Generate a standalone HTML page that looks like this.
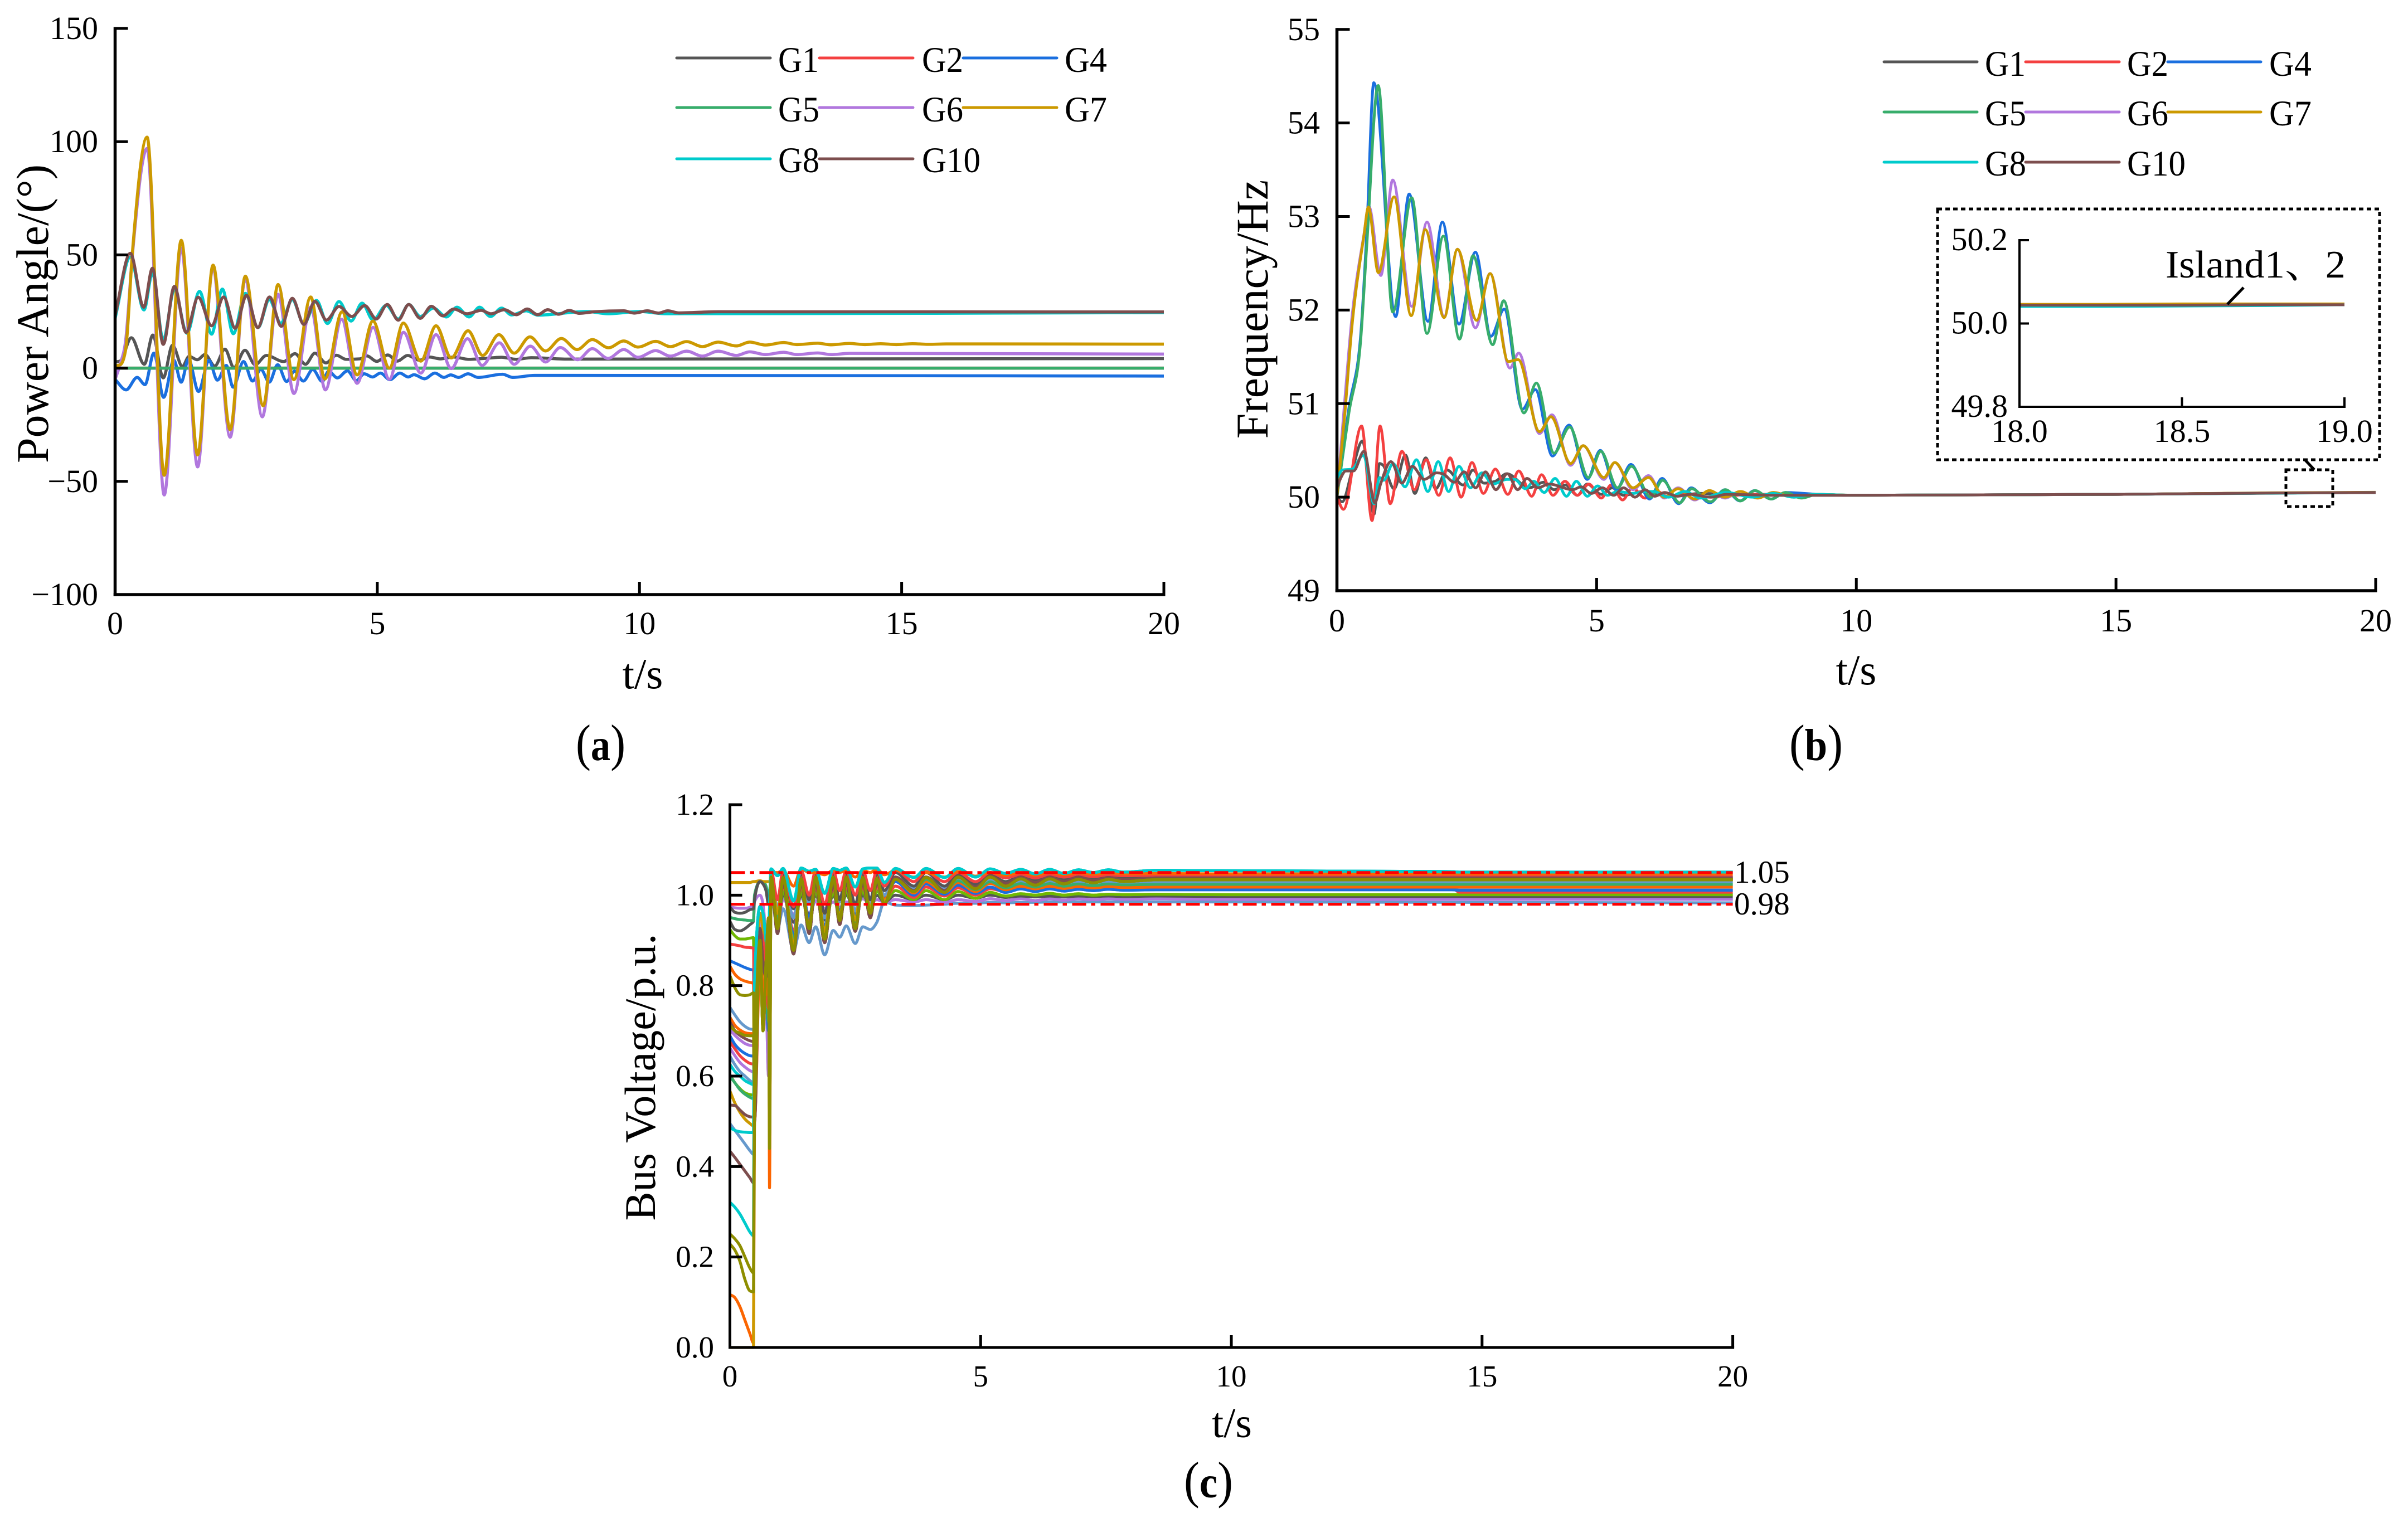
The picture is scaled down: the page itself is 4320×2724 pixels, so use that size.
<!DOCTYPE html>
<html><head><meta charset="utf-8"><title>Power angle, frequency and bus voltage</title>
<style>
html,body{margin:0;padding:0;background:#fff}
svg{display:block}
text{font-family:"Liberation Serif","Noto Serif CJK SC",serif;fill:#000}
.lg{font-size:65px}
.title{font-size:82px}
.cap{font-size:80px}
.par{font-size:92px}
</style></head>
<body>
<svg id="fig" xmlns="http://www.w3.org/2000/svg" width="4320" height="2724" viewBox="0 0 4320 2724">
<rect width="4320" height="2724" fill="#fff"/>

<g id="panelA"></g>
<g id="panelB"></g>
<g id="panelC"></g>
<g id="panelI"></g>

<text class="title" transform="translate(86,563) rotate(-90)" text-anchor="middle">Power Angle/(°)</text>
<text class="title" x="1153" y="1235" text-anchor="middle" style="font-size:77px">t/s</text>
<text class="cap" x="1033" y="1364" textLength="89" lengthAdjust="spacingAndGlyphs"><tspan class="par">(</tspan><tspan font-weight="bold">a</tspan><tspan class="par">)</tspan></text>

<text class="title" transform="translate(2274,555) rotate(-90)" text-anchor="middle">Frequency/Hz</text>
<text class="title" x="3330" y="1228" text-anchor="middle" style="font-size:77px">t/s</text>
<text class="cap" x="3210" y="1364" textLength="96" lengthAdjust="spacingAndGlyphs"><tspan class="par">(</tspan><tspan font-weight="bold">b</tspan><tspan class="par">)</tspan></text>

<text class="title" transform="translate(1175,1933) rotate(-90)" text-anchor="middle" style="font-size:78px">Bus Voltage/p.u.</text>
<text class="title" x="2210" y="2579" text-anchor="middle" style="font-size:76px">t/s</text>
<text class="cap" x="2124" y="2687" textLength="88" lengthAdjust="spacingAndGlyphs"><tspan class="par">(</tspan><tspan font-weight="bold">c</tspan><tspan class="par">)</tspan></text>
<text x="3111" y="1584" style="font-size:57px">1.05</text>
<text x="3111" y="1641" style="font-size:57px">0.98</text>

<g stroke-width="5" stroke-linecap="round">
<line x1="1214" x2="1382" y1="104" y2="104" stroke="#555555"/><text class="lg" x="1396" y="129" textLength="73" lengthAdjust="spacingAndGlyphs" stroke="none">G1</text>
<line x1="1470" x2="1638" y1="104" y2="104" stroke="#f44040"/><text class="lg" x="1654" y="129" textLength="74" lengthAdjust="spacingAndGlyphs" stroke="none">G2</text>
<line x1="1728" x2="1896" y1="104" y2="104" stroke="#1a6fdf"/><text class="lg" x="1910" y="129" textLength="76" lengthAdjust="spacingAndGlyphs" stroke="none">G4</text>
<line x1="1214" x2="1382" y1="193" y2="193" stroke="#37ad6b"/><text class="lg" x="1396" y="218" textLength="74" lengthAdjust="spacingAndGlyphs" stroke="none">G5</text>
<line x1="1470" x2="1638" y1="193" y2="193" stroke="#b177de"/><text class="lg" x="1654" y="218" textLength="74" lengthAdjust="spacingAndGlyphs" stroke="none">G6</text>
<line x1="1728" x2="1896" y1="193" y2="193" stroke="#cc9900"/><text class="lg" x="1910" y="218" textLength="76" lengthAdjust="spacingAndGlyphs" stroke="none">G7</text>
<line x1="1214" x2="1382" y1="285" y2="285" stroke="#00cbcc"/><text class="lg" x="1396" y="309" textLength="74" lengthAdjust="spacingAndGlyphs" stroke="none">G8</text>
<line x1="1470" x2="1638" y1="285" y2="285" stroke="#7d4e4e"/><text class="lg" x="1654" y="309" textLength="105" lengthAdjust="spacingAndGlyphs" stroke="none">G10</text>
</g>

<g stroke-width="5" stroke-linecap="round">
<line x1="3380" x2="3547" y1="111" y2="111" stroke="#555555"/><text class="lg" x="3561" y="136" textLength="73" lengthAdjust="spacingAndGlyphs" stroke="none">G1</text>
<line x1="3634" x2="3802" y1="111" y2="111" stroke="#f44040"/><text class="lg" x="3816" y="136" textLength="74" lengthAdjust="spacingAndGlyphs" stroke="none">G2</text>
<line x1="3889" x2="4056" y1="111" y2="111" stroke="#1a6fdf"/><text class="lg" x="4071" y="136" textLength="76" lengthAdjust="spacingAndGlyphs" stroke="none">G4</text>
<line x1="3380" x2="3547" y1="201" y2="201" stroke="#37ad6b"/><text class="lg" x="3561" y="225" textLength="74" lengthAdjust="spacingAndGlyphs" stroke="none">G5</text>
<line x1="3634" x2="3802" y1="201" y2="201" stroke="#b177de"/><text class="lg" x="3816" y="225" textLength="74" lengthAdjust="spacingAndGlyphs" stroke="none">G6</text>
<line x1="3889" x2="4056" y1="201" y2="201" stroke="#cc9900"/><text class="lg" x="4071" y="225" textLength="76" lengthAdjust="spacingAndGlyphs" stroke="none">G7</text>
<line x1="3380" x2="3547" y1="291" y2="291" stroke="#00cbcc"/><text class="lg" x="3561" y="315" textLength="74" lengthAdjust="spacingAndGlyphs" stroke="none">G8</text>
<line x1="3634" x2="3802" y1="291" y2="291" stroke="#7d4e4e"/><text class="lg" x="3816" y="315" textLength="105" lengthAdjust="spacingAndGlyphs" stroke="none">G10</text>
</g>

<rect x="3476" y="375" width="793" height="450" fill="none" stroke="#000" stroke-width="5" stroke-dasharray="8 6"/>
<rect x="4101" y="843" width="84" height="66" fill="none" stroke="#000" stroke-width="5" stroke-dasharray="8 6"/>
<line x1="4135" y1="825" x2="4152" y2="843" stroke="#000" stroke-width="5"/>
<text x="3885" y="498" textLength="323" lengthAdjust="spacingAndGlyphs" style="font-size:70px">Island1、2</text>
<line x1="4025" y1="516" x2="3996" y2="546" stroke="#000" stroke-width="5"/>
</svg>

<script>
/* ---------- shared axes values ---------- */
const timeTicks = [0, 5, 10, 15, 20];
const angleTicks = [-100, -50, 0, 50, 100, 150];
const angleTickLabels = ['\u2212100', '\u221250', '0', '50', '100', '150'];
const freqTicks = [49, 50, 51, 52, 53, 54, 55];
const freqTickLabels = ['49', '50', '51', '52', '53', '54', '55'];
const busTicks = [0, 0.2, 0.4, 0.6, 0.8, 1.0, 1.2];
const busTickLabels = ['0.0', '0.2', '0.4', '0.6', '0.8', '1.0', '1.2'];
const insetXTicks = [18, 18.5, 19];
const insetXLabels = ['18.0', '18.5', '19.0'];
const insetYTicks = [49.8, 50, 50.2];
const insetYLabels = ['49.8', '50.0', '50.2'];
const busLimits = [1.05, 0.98];

/* ---------- panel (a): power angle, [t, degrees] read at extrema ---------- */
const angleG1 = [[0,2.7],[.1,3.2],[.31,13.4],[.557,1.7],[.72,14.6],[.918,-4.3],[1.095,10.1],[1.283,.7],[1.41,5.2],[1.567,3.7],[1.715,6],[1.9,.9],[2.095,8.4],[2.265,.2],[2.477,7.9],[2.67,1.5],[2.885,5.6],[3.215,2.9],[3.43,6.4],[3.63,1.7],[3.81,6.6],[4.02,2.3],[4.22,5.7],[4.4,3.9],[4.67,4.1],[4.8,5.4],[4.99,3],[5.2,5.8],[5.38,3.1],[5.58,5.6],[5.8,3.5],[6,4.9],[6.2,4.1],[6.46,4.9],[6.74,3.9],[7.05,4.3],[7.37,4.8],[7.65,3.9],[7.94,4.6],[8.6,4],[20,4.2]];
const angleG2 = [[0,0],[20,0]];
const angleG4 = [[0,-5],[.21,-9.6],[.42,-4.1],[.57,-7.3],[.74,6.6],[.925,-12.9],[1.12,3.5],[1.26,-6.2],[1.4,3.9],[1.59,-10.3],[1.79,3.4],[1.95,-5.3],[2.12,1.2],[2.25,-8.4],[2.45,2.9],[2.62,-5.7],[2.78,-.6],[2.94,-6.2],[3.1,1.5],[3.27,-5.9],[3.42,-1.4],[3.59,-5.7],[3.77,-.6],[3.95,-5.9],[4.07,-1.4],[4.24,-4.3],[4.43,-1.2],[4.6,-5.5],[4.75,-2.5],[4.91,-3.9],[5.06,-2.2],[5.24,-5.1],[5.43,-2.2],[5.59,-3.9],[5.7,-2.9],[5.9,-4.7],[6.1,-2.2],[6.27,-4.1],[6.4,-3],[6.55,-4.1],[6.73,-2.5],[6.92,-4.1],[7.39,-2.7],[7.58,-4.1],[8,-3.2],[20,-3.5]];
const angleG5 = [[0,0],[20,0]];
const angleG6 = [[0,-5],[.1,2],[.2,12],[.33,50],[.61,97],[.936,-56],[1.262,53],[1.574,-43.6],[1.86,43.7],[2.194,-30.5],[2.48,39],[2.807,-21.5],[3.108,32.6],[3.41,-11.2],[3.73,27],[4.01,-9.6],[4.32,21.6],[4.615,-6.7],[4.92,18],[5.23,-4.9],[5.5,15.8],[5.83,-2.2],[6.12,14.8],[6.41,-.2],[6.72,13],[7,1.2],[7.33,11.2],[7.61,1.7],[7.92,9.7],[8.21,2.7],[8.49,9.1],[8.82,3.7],[9.1,8.6],[9.4,4.3],[9.7,8.2],[9.97,4.8],[10.31,7.7],[10.59,5.3],[10.9,7.5],[11.2,5.3],[11.5,7.5],[11.85,5.6],[12.1,7.2],[12.4,6],[12.75,7],[13,6],[13.4,6.7],[13.65,6],[14,6.5],[20,6.2]];
const angleG7 = [[0,1],[.1,1.5],[.2,8],[.33,51],[.61,102],[.936,-47.3],[1.262,56.4],[1.574,-38.3],[1.868,45.5],[2.194,-27.2],[2.484,40.6],[2.825,-16.6],[3.108,36.9],[3.41,-5.1],[3.73,31.4],[4,-4.8],[4.33,24.9],[4.615,-3],[4.916,20.8],[5.23,0],[5.497,19.9],[5.83,3.1],[6.12,18.7],[6.41,4.5],[6.73,16.5],[7.01,5.6],[7.32,14.8],[7.61,6.6],[7.91,13.8],[8.21,7.6],[8.51,13.1],[8.81,8.2],[9.1,12.6],[9.41,9],[9.7,12],[9.97,9.3],[10.31,11.8],[10.59,9.5],[10.9,11.7],[11.2,9.5],[11.5,11.5],[11.85,9.8],[12.1,11.5],[12.4,10.2],[12.75,11.3],[13,10.4],[13.4,11],[13.65,10.3],[14,10.9],[14.3,10.4],[14.6,10.8],[14.9,10.4],[15.2,10.8],[15.55,10.5],[15.85,10.7],[20,10.6]];
const angleG8 = [[0,22],[.29,49],[.55,25.7],[.712,42],[.918,12.5],[1.13,34.7],[1.37,15.4],[1.61,33.9],[1.84,15],[2.045,34.9],[2.254,15.2],[2.485,33],[2.725,17.9],[2.94,30.2],[3.16,19.9],[3.38,30.2],[3.6,19.5],[3.84,29.9],[4.05,19.7],[4.27,29.4],[4.5,20.8],[4.71,28.7],[4.92,21.2],[5.17,27.7],[5.4,21.7],[5.6,28.1],[5.82,22.8],[6.07,26.5],[6.32,22.6],[6.52,26.9],[6.75,22.6],[6.95,26.9],[7.16,22.8],[7.37,26.5],[7.56,23.5],[7.84,25.3],[8.06,23.4],[9,25],[9.4,24],[10,25],[10.5,24],[20,24.5]];
const angleG10 = [[0,23.2],[.29,50.7],[.546,26.9],[.712,44.1],[.918,10.5],[1.13,36.1],[1.354,15.8],[1.584,31.3],[1.84,18.7],[2.07,31.4],[2.29,17.6],[2.506,32.1],[2.72,17.9],[2.945,31.4],[3.17,18.5],[3.38,30.8],[3.6,19.3],[3.81,29.5],[4.03,21.2],[4.27,27.2],[4.515,22.8],[4.76,27.6],[4.98,21.7],[5.19,28.1],[5.4,21.2],[5.6,28.1],[5.82,22],[6.03,27.3],[6.25,23.1],[6.46,26.1],[6.71,24],[6.98,25.5],[7.17,24],[7.42,25.8],[7.65,23.6],[7.86,26.1],[8.06,23.6],[8.25,25.8],[8.46,23.8],[8.66,25.5],[8.85,24.2],[9.14,24.9],[9.7,25.3],[9.9,24.3],[10.15,25.3],[10.36,24.3],[10.54,25.3],[10.75,24.4],[11.5,24.9],[20,24.8]];

/* ---------- panel (b): frequency, [t, Hz] read at extrema ---------- */
const freqG1 = [[0,50],[.1,49.95],[.3,50.3],[.49,50.6],[.715,49.82],[.82,50.36],[.89,50.34],[1.1,50.09],[1.32,50.45],[1.5,50.04],[1.71,50.42],[1.9,50.09],[2.12,50.29],[2.43,50.13],[2.62,50.29],[2.83,50.15],[3.05,50.17],[3.27,50.25],[3.7,50.1],[3.99,50.16],[4.18,50.08],[4.4,50.13],[4.63,50.02],[4.82,50.14],[5.09,50.03],[5.3,50.1],[5.52,50.02],[5.9,50.06],[6.4,50.01],[7,50.04],[8,50.02],[10,50.02],[15,50.03],[18,50.044],[20,50.05]];
const freqG2 = [[0,50],[.125,49.87],[.475,50.76],[.676,49.75],[.83,50.76],[1.026,49.93],[1.25,50.49],[1.49,50.08],[1.72,50.4],[1.96,50.02],[2.18,50.42],[2.39,50],[2.6,50.37],[2.82,50.04],[3.05,50.3],[3.29,50.03],[3.5,50.28],[3.75,50.01],[3.94,50.24],[4.16,50.02],[4.39,50.17],[4.63,50.02],[4.85,50.14],[5.09,49.99],[5.28,50.13],[5.5,49.97],[5.69,50.1],[5.93,49.99],[6.14,50.07],[6.38,50],[6.7,50.04],[7.2,50],[8,50.03],[10,50.02],[15,50.03],[18,50.044],[20,50.05]];
const freqG4 = [[0,50],[.23,50.95],[.46,51.75],[.575,52.84],[.71,54.43],[1.13,51.93],[1.39,53.24],[1.753,51.88],[2.03,52.94],[2.35,51.85],[2.666,52.62],[2.965,51.72],[3.22,52.01],[3.57,50.94],[3.82,51.15],[4.15,50.44],[4.47,50.77],[4.82,50.19],[5.07,50.5],[5.38,50.08],[5.66,50.35],[6.02,49.98],[6.26,50.2],[6.58,49.93],[6.82,50.1],[7.18,49.94],[7.47,50.08],[7.76,49.96],[8.04,50.07],[8.36,49.98],[8.64,50.05],[9.25,50.03],[10,50.02],[15,50.03],[18,50.044],[20,50.05]];
const freqG5 = [[0,50],[.23,50.9],[.46,51.7],[.575,52.7],[.794,54.4],[1.074,51.98],[1.44,53.2],[1.734,51.75],[2.05,52.79],[2.36,51.69],[2.62,52.58],[3,51.63],[3.21,52.1],[3.6,50.9],[3.84,51.22],[4.18,50.47],[4.48,50.75],[4.84,50.21],[5.08,50.49],[5.4,50.1],[5.67,50.33],[6.04,50],[6.27,50.18],[6.6,49.94],[6.83,50.09],[7.19,49.95],[7.48,50.08],[7.77,49.96],[8.05,50.07],[8.36,49.98],[8.64,50.05],[8.94,49.99],[9.25,50.03],[10,50.02],[15,50.03],[18,50.044],[20,50.05]];
const freqG6 = [[0,50],[.153,51.05],[.276,51.85],[.518,52.8],[.614,53.11],[.844,52.37],[1.074,53.39],[1.44,52.04],[1.734,52.94],[2.064,51.93],[2.32,52.65],[2.666,51.81],[2.95,52.39],[3.33,51.38],[3.5,51.54],[3.9,50.68],[4.14,50.88],[4.5,50.34],[4.74,50.55],[5.14,50.19],[5.35,50.37],[5.7,50.08],[6,50.23],[6.3,49.99],[6.57,50.1],[6.89,49.97],[7.17,50.07],[7.47,49.99],[7.77,50.06],[8.1,49.99],[8.4,50.05],[8.8,50],[9.2,50.03],[10,50.02],[15,50.03],[18,50.044],[20,50.05]];
const freqG7 = [[0,50],[.153,50.9],[.276,51.75],[.518,52.79],[.606,53.1],[.798,52.4],[1.1,53.21],[1.43,51.94],[1.7,52.86],[2.064,51.92],[2.32,52.65],[2.69,51.89],[2.95,52.39],[3.3,51.45],[3.49,51.47],[3.9,50.7],[4.12,50.86],[4.5,50.36],[4.74,50.55],[5.14,50.21],[5.35,50.37],[5.7,50.1],[6,50.21],[6.3,50],[6.57,50.09],[6.89,49.98],[7.17,50.07],[7.47,50],[7.77,50.06],[8.1,49.99],[8.4,50.05],[8.8,50],[9.2,50.03],[10,50.02],[15,50.03],[18,50.046],[20,50.052]];
const freqG8 = [[0,50.2],[.1,50.29],[.29,50.3],[.51,50.45],[.715,49.93],[.82,50.21],[.9,50.18],[1.08,50.36],[1.31,50.11],[1.53,50.4],[1.75,50.06],[1.95,50.38],[2.15,50.06],[2.35,50.33],[2.57,50.1],[2.79,50.26],[3,50.14],[3.27,50.19],[3.42,50.19],[3.63,50.09],[3.79,50.17],[3.99,50.05],[4.2,50.2],[4.42,50.01],[4.61,50.17],[4.82,50.01],[5.02,50.12],[5.21,50.02],[5.4,50.06],[5.7,50.04],[5.93,50.06],[6.1,50.06],[6.38,50],[6.7,50.06],[7,49.99],[7.5,50.05],[8,50],[8.4,50.04],[8.8,50],[9.2,50.03],[10,50.02],[15,50.03],[18,50.042],[20,50.05]];
const freqG10 = [[0,50.1],[.07,50.2],[.17,50.28],[.32,50.28],[.52,50.49],[.73,49.94],[.84,50.14],[1.04,50.38],[1.25,50.15],[1.45,50.33],[1.68,50.19],[1.92,50.26],[2.04,50.25],[2.26,50.16],[2.45,50.27],[2.67,50.1],[2.86,50.27],[3.06,50.08],[3.28,50.25],[3.48,50.08],[3.66,50.2],[3.87,50.1],[4.08,50.14],[4.54,50.08],[4.7,50.11],[4.9,50.04],[5.11,50.1],[5.33,50.02],[5.52,50.1],[5.74,50],[5.93,50.08],[6.12,50.01],[6.31,50.05],[6.55,50.01],[6.8,50.03],[7.2,50],[7.5,50.03],[8.5,50.02],[10,50.02],[15,50.03],[18,50.044],[20,50.05]];

/* ---------- inset: frequency between 18 s and 19 s ---------- */
const insetTimes = [18, 18.25, 18.5, 18.75, 19];
const insetG1 = [50.044, 50.044, 50.045, 50.045, 50.045];
const insetG7 = [50.046, 50.046, 50.047, 50.047, 50.047];
const insetG8 = [50.041, 50.041, 50.042, 50.043, 50.045];
const insetG10 = [50.044, 50.044, 50.044, 50.045, 50.045];

/* ---------- panel (c): bus voltages ---------- */
const busPreTimes = [0, .1, .2, .3, .4, .47];
const busRespTimes = [.49,.60,.66,.72,.77,.79,.82,.95,1.06,1.27,1.42,1.58,1.71,1.89,2.06,2.19,2.32,2.5,2.65,2.8,2.93,3.08,3.3,3.67,3.91,4.28,4.55,4.9,5.19,5.5,5.8,6.09,6.38,6.66,6.95,7.25,7.55,7.85,8.5,10,14.4,14.55,20];
const respSteel  = [.55,.92,.94,.85,.75,.9,1.0,.926,.97,.878,.934,.895,.93,.868,.922,.907,.932,.893,.93,.924,.94,.985,.978,.977,.978,.98,.982,.982,.984,.983,.984,.984,.985,.985,.985,.985,.985,.985,.985,.985,.984,.984,.983];
const respPurple = [.6,.9,.95,.8,.6,.8,1.0,.938,.991,.958,.995,.958,.987,.971,.985,.973,.985,.979,.992,.982,.99,.985,.99,.985,.99,.984,.99,.986,.992,.988,.992,.988,.992,.989,.992,.99,.992,.991,.992,.991,.991,.991,.991];
const respGray2  = [.6,.88,.9,.82,.7,.85,1.01,.95,1.0,.94,1.0,.955,1.0,.945,1.0,.965,1.0,.965,1.0,.975,1.0,.985,1.0,.99,1.0,.99,1.0,.993,1.0,.995,.998,.996,.998,.996,.998,.997,.998,.997,.998,.997,.997,.997,.997];
const respLime   = [.58,.86,.88,.8,.72,.84,1.01,.93,1.01,.9,1.01,.93,1.01,.915,1.01,.945,1.01,.94,1.01,.96,1.01,.985,1.01,.99,1.01,.99,1.008,.993,1.006,.998,1.003,1.0,1.004,1.0,1.003,1.0,1.002,1.001,1.002,1.001,1.001,1.001,1.001];
const respRed2   = [.6,.9,.92,.84,.76,.88,1.02,.945,1.02,.92,1.02,.94,1.02,.925,1.02,.95,1.02,.95,1.02,.965,1.02,.99,1.02,.995,1.018,.998,1.016,1.0,1.014,1.008,1.018,1.013,1.018,1.014,1.017,1.015,1.017,1.016,1.016,1.016,1.016,1.0065,1.0065];
const respBlue   = [.62,.88,.92,.8,.7,.86,1.03,.96,1.03,.91,1.03,.945,1.03,.93,1.03,.96,1.03,.955,1.03,.97,1.03,.995,1.03,1.0,1.025,1.002,1.022,1.004,1.018,1.006,1.014,1.008,1.014,1.009,1.013,1.01,1.013,1.011,1.012,1.012,1.012,1.011,1.011];
const respOrange2= [.5,.85,.8,.75,.8,.9,1.03,.95,1.035,.885,1.035,.93,1.035,.91,1.035,.945,1.035,.94,1.035,.96,1.035,.99,1.035,1.005,1.03,1.006,1.028,1.008,1.026,1.012,1.02,1.014,1.02,1.015,1.019,1.016,1.019,1.017,1.018,1.018,1.018,1.018,1.018];
const respGreen  = [.65,.9,.93,.82,.72,.88,1.04,.94,1.035,.9,1.035,.92,1.035,.915,1.035,.94,1.035,.942,1.035,.96,1.035,.985,1.035,1.008,1.035,1.01,1.032,1.012,1.03,1.016,1.026,1.018,1.026,1.02,1.025,1.021,1.025,1.023,1.024,1.024,1.024,1.024,1.024];
const respSteel2 = [.6,.9,.92,.84,.75,.88,1.045,.97,1.04,.95,1.045,.98,1.045,.95,1.045,.985,1.045,.965,1.045,.98,1.045,1.0,1.04,1.015,1.04,1.015,1.038,1.018,1.036,1.024,1.032,1.026,1.032,1.027,1.031,1.028,1.031,1.029,1.03,1.03,1.03,1.03,1.03];
const respGold   = [.7,.96,.92,.85,.8,.92,1.04,.96,1.04,.89,1.04,.925,1.04,.92,1.04,.95,1.04,.945,1.04,.97,1.04,.985,1.04,1.01,1.04,1.01,1.04,1.016,1.04,1.024,1.037,1.026,1.037,1.028,1.036,1.03,1.036,1.032,1.035,1.035,1.035,1.035,1.035];
const respBrown  = [.5,.926,.85,.82,.86,.92,1.03,.915,1.03,.87,1.03,.915,1.03,.895,1.03,.935,1.03,.92,1.03,.95,1.03,.98,1.04,1.01,1.04,1.01,1.04,1.018,1.042,1.026,1.04,1.028,1.04,1.03,1.04,1.032,1.039,1.034,1.038,1.038,1.038,1.038,1.038];
const respGray   = [.8,.97,.93,.86,.85,.95,1.05,.99,1.05,.97,1.05,.99,1.05,.96,1.05,.99,1.05,.98,1.05,.99,1.05,1.01,1.05,1.02,1.05,1.02,1.046,1.024,1.045,1.03,1.042,1.032,1.042,1.034,1.041,1.036,1.041,1.038,1.04,1.04,1.04,1.04,1.04];
const respRed    = [.7,.92,.9,.82,.75,.92,1.055,.99,1.055,.975,1.055,1.0,1.055,.98,1.055,1.01,1.055,1.0,1.055,1.01,1.055,1.02,1.055,1.03,1.052,1.03,1.05,1.03,1.05,1.038,1.046,1.038,1.046,1.04,1.045,1.041,1.045,1.043,1.044,1.044,1.044,1.044,1.044];
const respOrange = [.5,.88,.8,.78,.95,.353,1.05,1.05,1.055,1.02,1.058,1.05,1.05,1.045,1.055,1.05,1.056,1.04,1.055,1.05,1.058,1.045,1.055,1.04,1.05,1.04,1.052,1.042,1.05,1.044,1.05,1.044,1.05,1.045,1.049,1.046,1.049,1.047,1.048,1.047,1.047,1.047,1.047];
const respCyan   = [.8,.975,.96,.9,.85,.97,1.058,1.043,1.059,.987,1.06,1.053,1.057,1.004,1.059,1.055,1.06,1.018,1.058,1.06,1.06,1.028,1.059,1.039,1.059,1.039,1.059,1.04,1.058,1.048,1.057,1.047,1.057,1.048,1.056,1.05,1.056,1.051,1.055,1.054,1.052,1.051,1.051];
const respOlive  = [.55,.9,.7,.85,.95,.44,1.04,.926,1.039,.878,1.036,.926,1.04,.903,1.04,.944,1.04,.926,1.039,.96,1.037,.98,1.035,1.008,1.039,1.006,1.04,1.014,1.04,1.02,1.036,1.022,1.036,1.025,1.035,1.027,1.035,1.03,1.034,1.034,1.034,1.034,1.034];

/* first seven response samples for the buses that stay high through the disturbance */
const headGoldTop = [1.03, 1.032, 1.03, 1.03, 1.03, 1.03, 1.035];
const headGreenTop = [1.0, 1.03, 1.03, 1.02, 1.0, 1.0, 1.03];
const headGrayTop = [.99, 1.03, 1.025, 1.01, .98, 1.0, 1.04];
const headPurpleTop = [.985, 1.0, .98, .9, .8, .85, 1.0];

/* start-of-run voltages per bus (c) */
const preSteelA  = [.752,.735,.72,.71,.704,.703];
const prePurpleA = [.974,.972,.971,.971,.973,.974];
const prePurpleB = [.703,.69,.68,.672,.668,.667];
const prePurpleC = [.662,.645,.63,.62,.612,.608];
const preGrayA   = [.974,.962,.96,.962,.968,.97];
const preGrayB   = [.942,.924,.921,.926,.935,.942];
const preLimeA   = [.924,.91,.903,.903,.905,.906];
const preLimeB   = [.603,.585,.572,.563,.559,.558];
const preRedA    = [.676,.66,.645,.635,.628,.626];
const preBlueA   = [.855,.85,.845,.84,.836,.834];
const preBlueB   = [.689,.67,.658,.65,.645,.644];
const preOrangeA = [.843,.825,.815,.81,.807,.805];
const preOrangeB = [.117,.11,.09,.06,.03,.01];
const preGreenA  = [.951,.948,.946,.945,.944,.944];
const preGreenB  = [.6,.585,.57,.56,.553,.55];
const preSteelB  = [.644,.625,.61,.6,.59,.585];
const preSteelC  = [.495,.48,.465,.45,.435,.427];
const preGoldA   = [1.028,1.028,1.028,1.028,1.028,1.03];
const preGoldB   = [.567,.54,.52,.505,.495,.49];
const preGoldC   = [0,0,0,0,0,0];
const preBrownA  = [.72,.7,.69,.683,.678,.676];
const preBrownB  = [.536,.535,.525,.515,.51,.509];
const preBrownC  = [.434,.42,.405,.39,.375,.364];
const preRedB    = [.892,.89,.888,.885,.884,.883];
const preCyanA   = [.626,.61,.6,.59,.584,.581];
const preCyanB   = [.486,.48,.477,.476,.475,.475];
const preCyanC   = [.321,.31,.295,.275,.255,.247];
const preOrangeC = [.73,.712,.702,.696,.694,.694];
const preOliveA  = [.822,.795,.78,.778,.78,.784];
const preOliveB  = [.712,.7,.695,.69,.689,.689];
const preOliveC  = [.251,.24,.225,.2,.175,.165];
const preOliveD  = [.229,.215,.19,.15,.125,.123];

/* ---------- helpers ---------- */
const NS = 'http://www.w3.org/2000/svg';
const colorG1 = '#555555', colorG2 = '#f44040', colorG4 = '#1a6fdf', colorG5 = '#37ad6b';
const colorG6 = '#b177de', colorG7 = '#cc9900', colorG8 = '#00cbcc', colorG10 = '#7d4e4e';
const colorOlive = '#8e8e00', colorOrange = '#fb6501', colorSteel = '#6699cc', colorLime = '#6fb802';

function linear(d0, d1, r0, r1) {
  return function (v) { return r0 + (v - d0) * (r1 - r0) / (d1 - d0); };
}
function curvePath(pts) {
  const n = pts.length;
  if (n < 3) {
    return 'M' + pts.map(function (p) { return p[0].toFixed(2) + ',' + p[1].toFixed(2); }).join('L');
  }
  const m = new Array(n).fill(0);
  for (let i = 1; i < n - 1; i++) {
    const h0 = pts[i][0] - pts[i - 1][0], h1 = pts[i + 1][0] - pts[i][0];
    const s0 = (pts[i][1] - pts[i - 1][1]) / h0, s1 = (pts[i + 1][1] - pts[i][1]) / h1;
    if (s0 * s1 <= 0) { m[i] = 0; continue; }
    const sign = s0 > 0 ? 1 : -1;
    m[i] = sign * 2 * Math.min(Math.abs(s0), Math.abs(s1), 0.5 * Math.abs((h0 * s1 + h1 * s0) / (h0 + h1)));
  }
  m[0] = (pts[1][1] - pts[0][1]) / (pts[1][0] - pts[0][0]);
  m[n - 1] = (pts[n - 1][1] - pts[n - 2][1]) / (pts[n - 1][0] - pts[n - 2][0]);
  let d = 'M' + pts[0][0].toFixed(2) + ',' + pts[0][1].toFixed(2);
  for (let i = 0; i < n - 1; i++) {
    const h = (pts[i + 1][0] - pts[i][0]) / 3;
    d += 'C' + (pts[i][0] + h).toFixed(2) + ',' + (pts[i][1] + h * m[i]).toFixed(2) + ' ' +
      (pts[i + 1][0] - h).toFixed(2) + ',' + (pts[i + 1][1] - h * m[i + 1]).toFixed(2) + ' ' +
      pts[i + 1][0].toFixed(2) + ',' + pts[i + 1][1].toFixed(2);
  }
  return d;
}
function drawSeries(parent, data, color, name, xf, yf, width) {
  const el = document.createElementNS(NS, 'path');
  el.setAttribute('d', curvePath(data.map(function (p) { return [xf(p[0]), yf(p[1])]; })));
  el.setAttribute('fill', 'none');
  el.setAttribute('stroke', color);
  el.setAttribute('stroke-width', width);
  el.setAttribute('stroke-linejoin', 'round');
  
  
  parent.appendChild(el);
  return el;
}
function drawLine(parent, x1, y1, x2, y2, width, name) {
  const el = document.createElementNS(NS, 'line');
  el.setAttribute('x1', x1);
  el.setAttribute('y1', y1);
  el.setAttribute('x2', x2);
  el.setAttribute('y2', y2);
  el.setAttribute('stroke', '#000');
  el.setAttribute('stroke-width', width);
  
  
  parent.appendChild(el);
}
function drawText(parent, x, y, str, anchor, size, name) {
  const el = document.createElementNS(NS, 'text');
  el.setAttribute('x', x);
  el.setAttribute('y', y);
  el.setAttribute('text-anchor', anchor);
  el.style.fontSize = size + 'px';
  el.textContent = str;
  
  
  parent.appendChild(el);
}
function drawAxes(parent, a) {
  const x0 = a.xf(a.xTicks[0]), y0 = a.yf(a.yTicks[0]);
  const xEnd = a.xf(a.xTicks[a.xTicks.length - 1]), yEnd = a.yf(a.yTicks[a.yTicks.length - 1]);
  drawLine(parent, x0, y0 + a.sw / 2, x0, yEnd - a.tw / 2, a.sw, 'y-axis-line');
  drawLine(parent, x0 - a.sw / 2, y0, xEnd + a.tw / 2, y0, a.sw, 'x-axis-line');
  a.yTicks.forEach(function (v, i) {
    const y = a.yf(v);
    if (i > 0) drawLine(parent, x0, y, x0 + a.tl, y, a.tw, 'y-tick');
    drawText(parent, a.yLabelX, y + a.yLabelDy, a.yLabels[i], 'end', a.size, 'y-tick-label');
  });
  a.xTicks.forEach(function (v, i) {
    const x = a.xf(v);
    if (i > 0) drawLine(parent, x, y0, x, y0 - a.tl, a.tw, 'x-tick');
    drawText(parent, x, a.xLabelY, a.xLabels[i], 'middle', a.size, 'x-tick-label');
  });
}

/* ---------- panel (a) ---------- */
const gA = document.getElementById('panelA');
const xA = linear(0, 20, 206.5, 2088);
const yA = linear(-100, 150, 1067, 51);
drawSeries(gA, angleG1, colorG1, 'series-g1', xA, yA, 5.5);
drawSeries(gA, angleG2, colorG2, 'series-g2', xA, yA, 5.5);
drawSeries(gA, angleG4, colorG4, 'series-g4', xA, yA, 5.5);
drawSeries(gA, angleG5, colorG5, 'series-g5', xA, yA, 5.5);
drawSeries(gA, angleG6, colorG6, 'series-g6', xA, yA, 5.5);
drawSeries(gA, angleG8, colorG8, 'series-g8', xA, yA, 5.5);
drawSeries(gA, angleG7, colorG7, 'series-g7', xA, yA, 5.5);
drawSeries(gA, angleG10, colorG10, 'series-g10', xA, yA, 5.5);
drawAxes(gA, { xf: xA, yf: yA, xTicks: timeTicks, yTicks: angleTicks,
  xLabels: timeTicks.map(String), yLabels: angleTickLabels,
  sw: 5.5, tw: 5, tl: 23, size: 58, yLabelX: 176, yLabelDy: 19, xLabelY: 1138 });

/* ---------- panel (b) ---------- */
const gB = document.getElementById('panelB');
const xB = linear(0, 20, 2398.5, 4262);
const yB = linear(49, 55, 1060, 52.8);
drawSeries(gB, freqG1, colorG1, 'series-g1', xB, yB, 5);
drawSeries(gB, freqG2, colorG2, 'series-g2', xB, yB, 5);
drawSeries(gB, freqG4, colorG4, 'series-g4', xB, yB, 5);
drawSeries(gB, freqG6, colorG6, 'series-g6', xB, yB, 5);
drawSeries(gB, freqG5, colorG5, 'series-g5', xB, yB, 5);
drawSeries(gB, freqG7, colorG7, 'series-g7', xB, yB, 5);
drawSeries(gB, freqG8, colorG8, 'series-g8', xB, yB, 5);
drawSeries(gB, freqG10, colorG10, 'series-g10', xB, yB, 5);
drawAxes(gB, { xf: xB, yf: yB, xTicks: timeTicks, yTicks: freqTicks,
  xLabels: timeTicks.map(String), yLabels: freqTickLabels,
  sw: 5.5, tw: 5, tl: 23, size: 58, yLabelX: 2368, yLabelDy: 19, xLabelY: 1133 });

/* ---------- inset ---------- */
const gI = document.getElementById('panelI');
const xI = linear(18, 19, 3623, 4206);
const yI = linear(49.8, 50.2, 730, 431);
function insetPairs(values) {
  return values.map(function (v, i) { return [insetTimes[i], v]; });
}
drawSeries(gI, insetPairs(insetG1), colorG1, 'inset-series-g1', xI, yI, 5);
drawSeries(gI, insetPairs(insetG7), colorG7, 'inset-series-g7', xI, yI, 5);
drawSeries(gI, insetPairs(insetG8), colorG8, 'inset-series-g8', xI, yI, 5);
drawSeries(gI, insetPairs(insetG10), colorG10, 'inset-series-g10', xI, yI, 5);
drawAxes(gI, { xf: xI, yf: yI, xTicks: insetXTicks, yTicks: insetYTicks,
  xLabels: insetXLabels, yLabels: insetYLabels,
  sw: 4, tw: 4, tl: 17, size: 58, yLabelX: 3602, yLabelDy: 18, xLabelY: 793 });

/* ---------- panel (c) ---------- */
const gC = document.getElementById('panelC');
const xC = linear(0, 20, 1309.5, 3108.6);
const yC = linear(0, 1.2, 2418, 1444);
function busPath(pre, resp, head) {
  const pts = [];
  pre.forEach(function (v, i) { pts.push([busPreTimes[i], v]); });
  resp.forEach(function (v, i) { pts.push([busRespTimes[i], head && i < head.length ? head[i] : v]); });
  return pts;
}
drawSeries(gC, busPath(preSteelA, respSteel), colorSteel, 'bus-voltage-trace', xC, yC, 5.2);
drawSeries(gC, busPath(prePurpleA, respPurple, headPurpleTop), colorG6, 'bus-voltage-trace', xC, yC, 5.2);
drawSeries(gC, busPath(prePurpleB, respPurple), colorG6, 'bus-voltage-trace', xC, yC, 5.2);
drawSeries(gC, busPath(prePurpleC, respPurple), colorG6, 'bus-voltage-trace', xC, yC, 5.2);
drawSeries(gC, busPath(preGrayB, respGray2, headGrayTop), colorG1, 'bus-voltage-trace', xC, yC, 5.2);
drawSeries(gC, busPath(preLimeA, respLime), colorLime, 'bus-voltage-trace', xC, yC, 5.2);
drawSeries(gC, busPath(preLimeB, respLime), colorLime, 'bus-voltage-trace', xC, yC, 5.2);
drawSeries(gC, busPath(preRedA, respRed2), colorG2, 'bus-voltage-trace', xC, yC, 5.2);
drawSeries(gC, busPath(preBlueA, respBlue), colorG4, 'bus-voltage-trace', xC, yC, 5.2);
drawSeries(gC, busPath(preBlueB, respBlue), colorG4, 'bus-voltage-trace', xC, yC, 5.2);
drawSeries(gC, busPath(preOrangeA, respOrange2), colorOrange, 'bus-voltage-trace', xC, yC, 5.2);
drawSeries(gC, busPath(preOrangeB, respOrange2), colorOrange, 'bus-voltage-trace', xC, yC, 5.2);
drawSeries(gC, busPath(preGreenA, respGreen, headGreenTop), colorG5, 'bus-voltage-trace', xC, yC, 5.2);
drawSeries(gC, busPath(preGreenB, respGreen), colorG5, 'bus-voltage-trace', xC, yC, 5.2);
drawSeries(gC, busPath(preSteelB, respSteel2), colorSteel, 'bus-voltage-trace', xC, yC, 5.2);
drawSeries(gC, busPath(preSteelC, respSteel2), colorSteel, 'bus-voltage-trace', xC, yC, 5.2);
drawSeries(gC, busPath(preGoldA, respGold, headGoldTop), colorG7, 'bus-voltage-trace', xC, yC, 5.2);
drawSeries(gC, busPath(preGoldB, respGold), colorG7, 'bus-voltage-trace', xC, yC, 5.2);
drawSeries(gC, busPath(preGoldC, respGold), colorG7, 'bus-voltage-trace', xC, yC, 5.2);
drawSeries(gC, busPath(preGrayA, respGray, headGrayTop), colorG1, 'bus-voltage-trace', xC, yC, 5.2);
drawSeries(gC, busPath(preRedB, respRed), colorG2, 'bus-voltage-trace', xC, yC, 5.2);
drawSeries(gC, busPath(preOrangeC, respOrange), colorOrange, 'bus-voltage-trace', xC, yC, 5.2);
drawSeries(gC, busPath(preBrownA, respBrown), colorG10, 'bus-voltage-trace', xC, yC, 5.2);
drawSeries(gC, busPath(preBrownB, respBrown), colorG10, 'bus-voltage-trace', xC, yC, 5.2);
drawSeries(gC, busPath(preBrownC, respBrown), colorG10, 'bus-voltage-trace', xC, yC, 5.2);
drawSeries(gC, busPath(preCyanA, respCyan), colorG8, 'bus-voltage-trace', xC, yC, 5.2);
drawSeries(gC, busPath(preCyanB, respCyan), colorG8, 'bus-voltage-trace', xC, yC, 5.2);
drawSeries(gC, busPath(preCyanC, respCyan), colorG8, 'bus-voltage-trace', xC, yC, 5.2);
drawSeries(gC, busPath(preOliveA, respOlive), colorOlive, 'bus-voltage-trace', xC, yC, 5.2);
drawSeries(gC, busPath(preOliveB, respOlive), colorOlive, 'bus-voltage-trace', xC, yC, 5.2);
drawSeries(gC, busPath(preOliveC, respOlive), colorOlive, 'bus-voltage-trace', xC, yC, 5.2);
drawSeries(gC, busPath(preOliveD, respOlive), colorOlive, 'bus-voltage-trace', xC, yC, 5.2);
busLimits.forEach(function (v) {
  const el = document.createElementNS(NS, 'line');
  el.setAttribute('x1', xC(0) + 2);
  el.setAttribute('x2', xC(20));
  el.setAttribute('y1', yC(v));
  el.setAttribute('y2', yC(v));
  el.setAttribute('stroke', '#ff0000');
  el.setAttribute('stroke-width', 5);
  el.setAttribute('stroke-dasharray', '25 9 7.5 9.5');
  
  
  gC.appendChild(el);
});
drawAxes(gC, { xf: xC, yf: yC, xTicks: timeTicks, yTicks: busTicks,
  xLabels: timeTicks.map(String), yLabels: busTickLabels,
  sw: 5, tw: 5, tl: 22, size: 55, yLabelX: 1281, yLabelDy: 18, xLabelY: 2488 });
</script>
</body></html>
